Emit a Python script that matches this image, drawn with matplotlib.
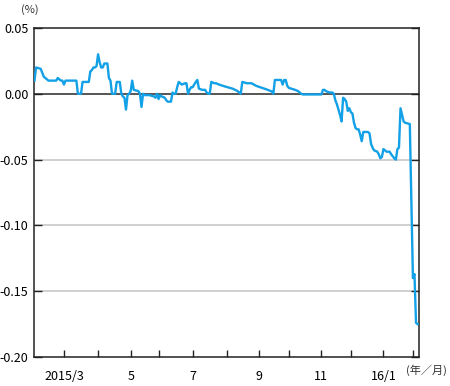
import matplotlib
matplotlib.use("Agg")
import matplotlib.pyplot as plt
import numpy as np

plt.rcParams['font.family'] = ['Noto Sans CJK JP', 'DejaVu Sans']

# Japanese business-day calendar (holidays inside the plotted range)
holidays = ['2015-02-11', '2015-04-29', '2015-05-04', '2015-05-05', '2015-05-06',
            '2015-07-20', '2015-09-21', '2015-09-22', '2015-09-23', '2015-10-12',
            '2015-11-03', '2015-11-23', '2015-12-23', '2015-12-31', '2016-01-01',
            '2016-01-11']
start = '2015-02-02'

# data (%)
dates = ['2015-02-02', '2015-02-03', '2015-02-06', '2015-02-10', '2015-02-13', '2015-02-16',
         '2015-02-23', '2015-02-24', '2015-02-25', '2015-02-26', '2015-02-27', '2015-03-02',
         '2015-03-03', '2015-03-12', '2015-03-13', '2015-03-17', '2015-03-18', '2015-03-24',
         '2015-03-25', '2015-03-26', '2015-03-27', '2015-03-30', '2015-03-31', '2015-04-01',
         '2015-04-02', '2015-04-03', '2015-04-06', '2015-04-07', '2015-04-09', '2015-04-10',
         '2015-04-13', '2015-04-14', '2015-04-16', '2015-04-17', '2015-04-21', '2015-04-22',
         '2015-04-23', '2015-04-24', '2015-04-27', '2015-04-28', '2015-04-30', '2015-05-01',
         '2015-05-07', '2015-05-08', '2015-05-13', '2015-05-14', '2015-05-15', '2015-05-18',
         '2015-05-19', '2015-05-22', '2015-05-27', '2015-05-28', '2015-05-29', '2015-06-01',
         '2015-06-02', '2015-06-03', '2015-06-05', '2015-06-08', '2015-06-09', '2015-06-11',
         '2015-06-12', '2015-06-15', '2015-06-16', '2015-06-17', '2015-06-18', '2015-06-19',
         '2015-06-22', '2015-06-24', '2015-06-25', '2015-06-26', '2015-06-29', '2015-06-30',
         '2015-07-01', '2015-07-02', '2015-07-03', '2015-07-06', '2015-07-07', '2015-07-09',
         '2015-07-13', '2015-07-14', '2015-07-15', '2015-07-16', '2015-07-17', '2015-07-22',
         '2015-07-23', '2015-07-27', '2015-07-31', '2015-08-07', '2015-08-12', '2015-08-13',
         '2015-08-14', '2015-08-17', '2015-08-20', '2015-08-25', '2015-08-28', '2015-09-07',
         '2015-09-11', '2015-09-14', '2015-09-15', '2015-09-24', '2015-09-25', '2015-09-28',
         '2015-09-29', '2015-09-30', '2015-10-01', '2015-10-07', '2015-10-09', '2015-10-14',
         '2015-10-15', '2015-11-02', '2015-11-04', '2015-11-05', '2015-11-06', '2015-11-10',
         '2015-11-12', '2015-11-13', '2015-11-16', '2015-11-17', '2015-11-18', '2015-11-19',
         '2015-11-20', '2015-11-24', '2015-11-25', '2015-11-26', '2015-11-27', '2015-11-30',
         '2015-12-01', '2015-12-02', '2015-12-03', '2015-12-04', '2015-12-07', '2015-12-08',
         '2015-12-09', '2015-12-10', '2015-12-11', '2015-12-16', '2015-12-17', '2015-12-18',
         '2015-12-21', '2015-12-22', '2015-12-25', '2015-12-28', '2015-12-29', '2015-12-30',
         '2016-01-04', '2016-01-06', '2016-01-08', '2016-01-12', '2016-01-14', '2016-01-15',
         '2016-01-18', '2016-01-19', '2016-01-20', '2016-01-21', '2016-01-22', '2016-01-25',
         '2016-01-28', '2016-02-01', '2016-02-02', '2016-02-03', '2016-02-04']
values = [0.010, 0.020, 0.019, 0.013, 0.011, 0.010,
          0.010, 0.012, 0.011, 0.010, 0.010, 0.007,
          0.010, 0.010, 0.000, 0.000, 0.009, 0.009,
          0.017, 0.018, 0.020, 0.020, 0.021, 0.030,
          0.024, 0.020, 0.020, 0.023, 0.023, 0.012,
          0.010, 0.000, 0.000, 0.009, 0.009, 0.000,
          -0.002, -0.003, -0.012, -0.001, 0.000, 0.002,
          0.010, 0.003, 0.002, 0.000, -0.010, 0.000,
          -0.001, -0.001, -0.002, -0.003, 0.000, -0.004,
          -0.001, -0.002, -0.003, -0.005, -0.006, -0.006,
          0.001, 0.000, 0.000, 0.005, 0.009, 0.008,
          0.007, 0.008, 0.008, 0.000, 0.003, 0.005,
          0.005, 0.007, 0.009, 0.0105, 0.004, 0.003,
          0.003, 0.001, 0.000, 0.000, 0.009, 0.008,
          0.008, 0.007, 0.0055, 0.0038, 0.002, 0.001,
          0.000, 0.009, 0.008, 0.008, 0.006, 0.0036,
          0.0018, 0.000, 0.0105, 0.0105, 0.007, 0.0105,
          0.0105, 0.006, 0.0045, 0.003, 0.002, 0.000,
          -0.0005, -0.0005, 0.003, 0.003, 0.002, 0.001,
          0.001, 0.000, -0.005, -0.008, -0.012, -0.016,
          -0.021, -0.003, -0.004, -0.006, -0.013, -0.011,
          -0.014, -0.015, -0.022, -0.026, -0.027, -0.027,
          -0.031, -0.036, -0.029, -0.029, -0.030, -0.038,
          -0.041, -0.043, -0.044, -0.046, -0.049, -0.048,
          -0.042, -0.044, -0.044, -0.046, -0.049, -0.050,
          -0.042, -0.041, -0.011, -0.016, -0.021, -0.022,
          -0.023, -0.140, -0.137, -0.174, -0.175]

month_starts = ['2015-03-01', '2015-04-01', '2015-05-01', '2015-06-01', '2015-07-01',
                '2015-08-01', '2015-09-01', '2015-10-01', '2015-11-01', '2015-12-01',
                '2016-01-01', '2016-02-01']
month_labels = ['2015/3', '', '5', '', '7', '', '9', '', '11', '', '16/1', '']

yticks = [0.05, 0.00, -0.05, -0.10, -0.15, -0.20]
ylabels = ['0.05', '0.00', '-0.05', '-0.10', '-0.15', '-0.20']

x = np.busday_count(start, np.array(dates, dtype='datetime64[D]'), holidays=holidays)
first_bd = np.busday_offset(np.array(month_starts, dtype='datetime64[D]'), 0,
                            roll='forward', holidays=holidays)
xt = np.busday_count(start, first_bd, holidays=holidays)

fig = plt.figure(figsize=(4.5, 3.86), dpi=100)
ax = fig.add_axes([0.0756, 0.0751, 0.8544, 0.8524])

for v in [-0.05, -0.10, -0.15]:
    ax.axhline(v, color='#c8c8c8', lw=1.2, zorder=1)
ax.axhline(0.0, color='#555555', lw=1.4, zorder=1)

ax.plot(x, values, color='#12a0e6', lw=1.7, zorder=3)

ax.set_xlim(-0.3, 247.6)
ax.set_ylim(-0.20, 0.05)
ax.set_yticks(yticks)
ax.set_yticklabels(ylabels)
ax.set_xticks(xt)
ax.set_xticklabels(month_labels)

ax.tick_params(axis='y', direction='in', length=6, width=1, left=True, right=True,
               labelsize=9, pad=4, color='#222222')
ax.tick_params(axis='x', direction='in', length=5, width=1, labelsize=9, pad=9,
               color='#222222')
for s in ax.spines.values():
    s.set_linewidth(1.1)
    s.set_color('#222222')

fig.text(30 / 450, 1 - 10 / 386, '(%)', fontsize=8, ha='center', va='center',
         color='#333333')
fig.text(426 / 450, 1 - 370 / 386, '(年／月)', fontsize=8, ha='center', va='center',
         color='#333333')

fig.savefig('out.png')
